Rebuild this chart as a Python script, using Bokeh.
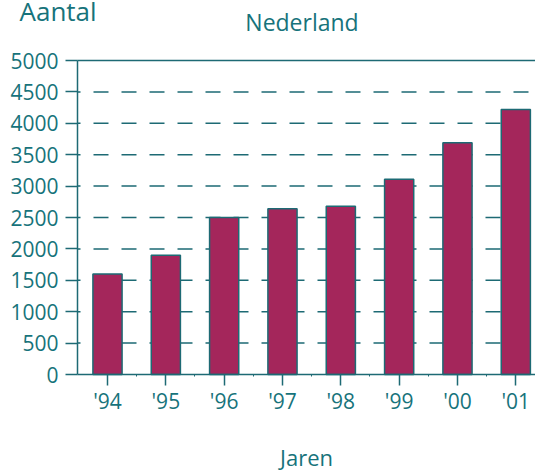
from bokeh.plotting import figure
from bokeh.models import Range1d, FixedTicker, Label
from bokeh.embed import file_html
from bokeh.resources import INLINE

# Aantal per jaar, Nederland
years = ["'94", "'95", "'96", "'97", "'98", "'99", "'00", "'01"]
counts = [1600, 1900, 2500, 2640, 2680, 3110, 3690, 4220]
y_ticks = [0, 500, 1000, 1500, 2000, 2500, 3000, 3500, 4000, 4500, 5000]

TEAL = "#17737b"
LINE = "#1d6a74"
BAR = "#a4265b"
FONT = "Open Sans"

W, H = 535, 470
# pixel geometry of the plotting area inside the canvas
AX_LEFT, AX_TOP, AX_BOTTOM = 77, 60, 374
FIRST_CENTER, STEP = 107, 58.33
Y_MAX = y_ticks[-1]
Y_PER_PX = Y_MAX / (AX_BOTTOM - AX_TOP)


def px_x(px):
    return (px - FIRST_CENTER) / STEP


def px_y(py):
    return (AX_BOTTOM - py) * Y_PER_PX


xs = list(range(len(years)))
x_left = px_x(AX_LEFT)
x_right = px_x(W)

p = figure(width=W, height=H, output_backend="svg", toolbar_location=None,
           x_range=Range1d(px_x(0), x_right),
           y_range=Range1d(px_y(H), px_y(0)),
           min_border=0)
p.outline_line_color = None
p.background_fill_color = "white"
p.border_fill_color = "white"
p.xgrid.grid_line_color = None
p.ygrid.grid_line_color = None

# dashed guide lines at every tick, solid line along the top
inner = y_ticks[1:-1]
p.segment(x0=[x_left] * len(inner), x1=[x_right] * len(inner),
          y0=inner, y1=inner, line_color=LINE, line_width=1.5,
          line_dash="15 13", line_dash_offset=12)
p.segment(x0=[x_left], x1=[x_right], y0=[Y_MAX], y1=[Y_MAX],
          line_color=LINE, line_width=1.5)

p.vbar(x=xs, top=counts, width=0.5, fill_color=BAR,
       line_color=LINE, line_width=1.5)

# x axis at zero: category centres with small marks between them
p.xaxis.fixed_location = 0
p.xaxis.bounds = (x_left, x_right)
p.xaxis.ticker = FixedTicker(ticks=xs,
                             minor_ticks=[i + 0.5 for i in xs[:-1]])
p.xaxis.major_label_overrides = {i: y for i, y in zip(xs, years)}
p.xaxis.major_tick_out = 11
p.xaxis.major_tick_in = 0
p.xaxis.minor_tick_out = 2
p.xaxis.minor_tick_in = 0
p.xaxis.major_label_standoff = 1

# y axis along the left edge of the bars area
p.yaxis.fixed_location = x_left
p.yaxis.bounds = (0, Y_MAX)
p.yaxis.ticker = FixedTicker(ticks=y_ticks)
p.yaxis.major_tick_out = 12
p.yaxis.major_tick_in = 0
p.yaxis.major_label_standoff = 7

for ax in (p.xaxis[0], p.yaxis[0]):
    ax.axis_line_color = LINE
    ax.axis_line_width = 1.5
    ax.major_tick_line_color = LINE
    ax.major_tick_line_width = 1.5
    ax.major_label_text_font = FONT
    ax.major_label_text_font_size = "21px"
    ax.major_label_text_color = TEAL
p.xaxis.minor_tick_line_color = LINE
p.yaxis.minor_tick_line_color = None


def note(text, px, py, size, align):
    p.add_layout(Label(x=px_x(px), y=px_y(py), text=text, text_font=FONT,
                       text_font_size=size, text_color=TEAL,
                       text_align=align, text_baseline="alphabetic"))


note("Aantal", 19, 10, "26px", "left")
note("Nederland", 301.5, 21.5, "23px", "center")
note("Jaren", 306, 456, "22px", "center")

open("out.html", "w").write(file_html(p, INLINE))
